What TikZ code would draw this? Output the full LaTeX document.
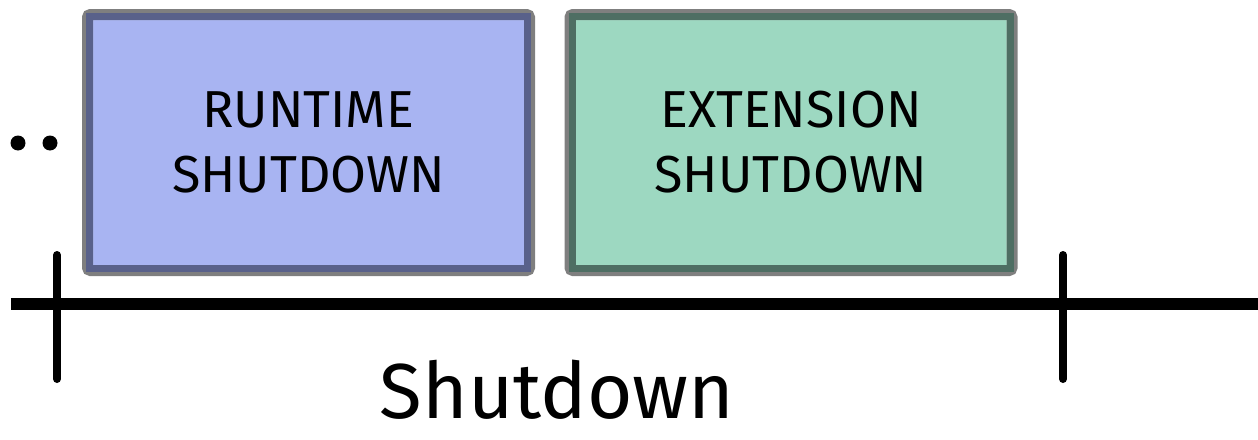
\documentclass[tikz,border=0pt]{standalone}
\usepackage{fontspec}
\setmainfont{Fira Sans}
\usetikzlibrary{calc}
\definecolor{framegray}{HTML}{7F7F7F}
\definecolor{bluefill}{HTML}{A8B4F2}
\definecolor{blueedge}{HTML}{59618A}
\definecolor{greenfill}{HTML}{9DD8C1}
\definecolor{greenedge}{HTML}{4E6E63}
\tikzset{
  px/.style={x=0.5pt,y=-0.5pt},
  stagebox/.style={rectangle, draw=framegray, line width=5.5pt, rounded corners=1.5pt,
    minimum width=221pt, minimum height=128pt, inner sep=0pt, outer sep=0pt,
    align=center, font=\fontsize{26}{32.5}\selectfont},
  inneredge/.style={line width=3.5pt},
  axis/.style={line width=6pt, black},
  tick/.style={line width=4pt, black, line cap=round},
  dot/.style={fill=black, draw=none, circle, minimum size=7.5pt, inner sep=0pt},
  biglabel/.style={font=\fontsize{39}{46}\selectfont, anchor=base, inner sep=0pt}
}
\begin{document}
\begin{tikzpicture}[px]
\useasboundingbox (0,0) rectangle (1258,439);
% boxes
\node[stagebox, fill=bluefill] (rt) at (308.5,142.5) {RUNTIME\\SHUTDOWN};
\draw[inneredge, blueedge] ($(rt.south west)+(1pt,1pt)$) rectangle ($(rt.north east)-(1pt,1pt)$);
\node[stagebox, fill=greenfill] (ext) at (791,142.5) {EXTENSION\\SHUTDOWN};
\draw[inneredge, greenedge] ($(ext.south west)+(1pt,1pt)$) rectangle ($(ext.north east)-(1pt,1pt)$);
% dots
\node[dot] (d1) at (18,143) {};
\node[dot] (d2) at (50,143) {};
% timeline
\coordinate (tl) at (11,304);
\coordinate (tr) at (1258,304);
\draw[axis] (tl) -- (tr);
\coordinate (t1a) at (57,255);
\coordinate (t1b) at (57,379);
\coordinate (t2a) at (1063,255);
\coordinate (t2b) at (1063,379);
\draw[tick] (t1a) -- (t1b);
\draw[tick] (t2a) -- (t2b);
% label
\node[biglabel] (lbl) at (557,418) {Shutdown};
\end{tikzpicture}
\end{document}
